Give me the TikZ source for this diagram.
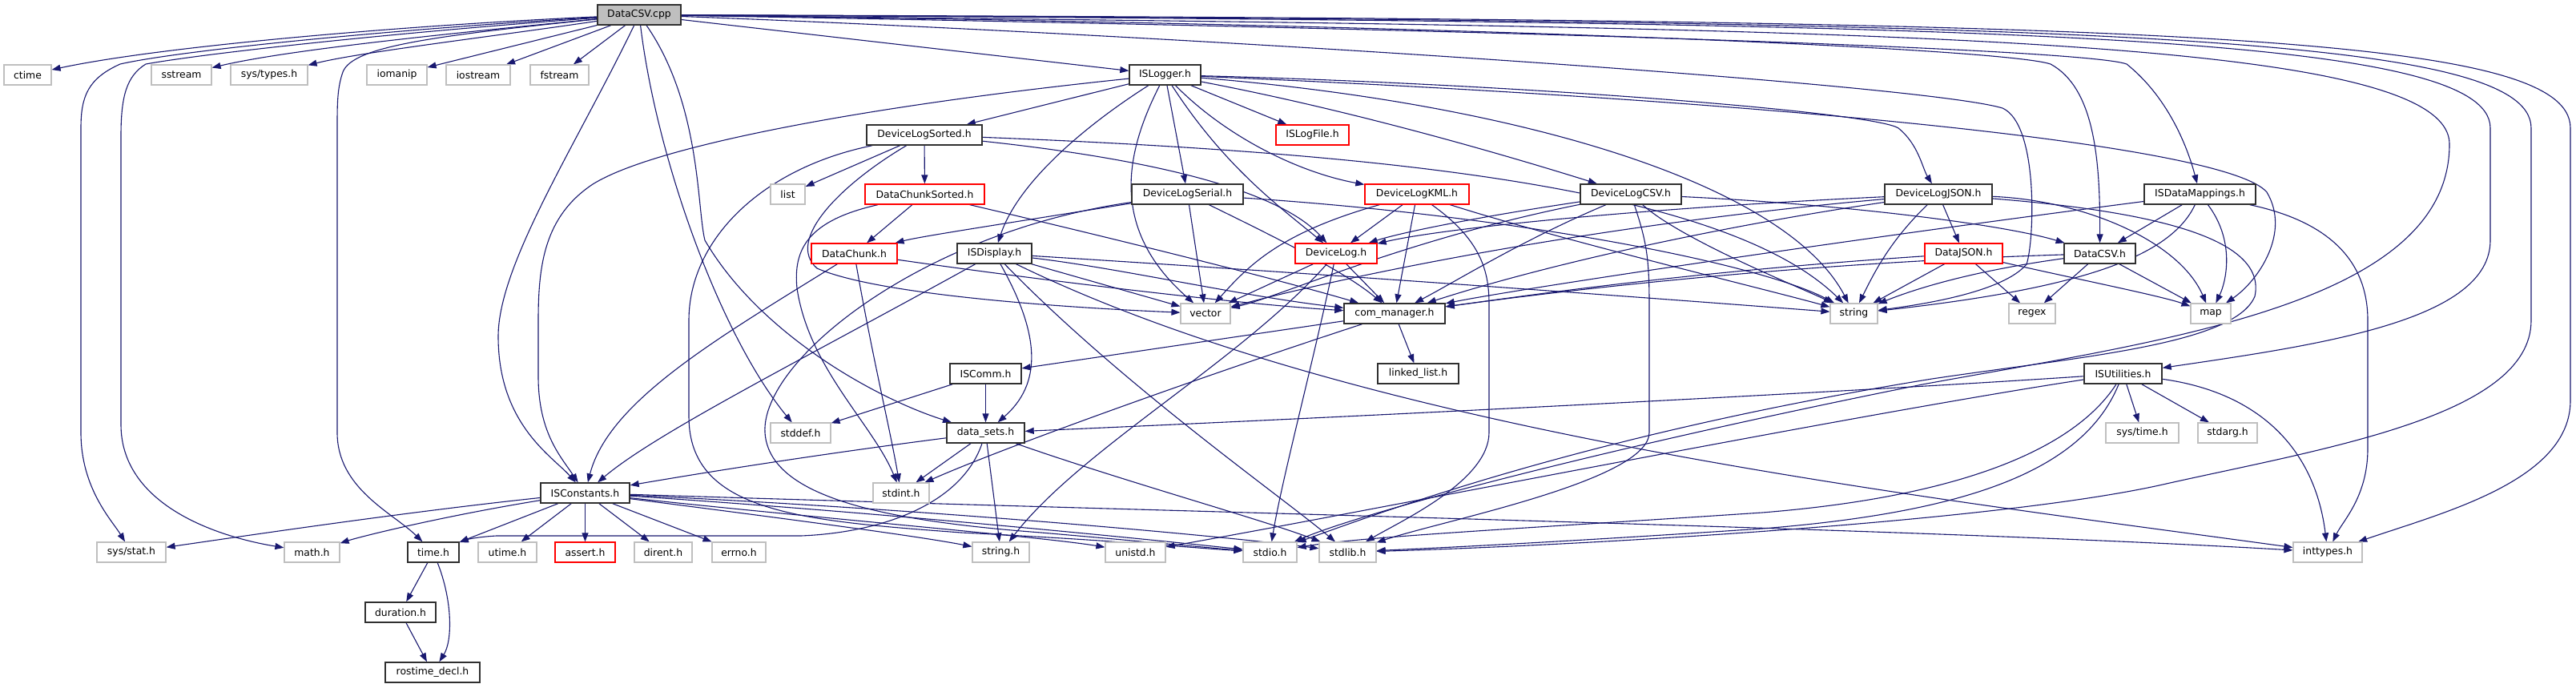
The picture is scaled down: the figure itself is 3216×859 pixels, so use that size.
\documentclass[tikz,border=0pt]{standalone}
\usepackage{fontspec}
\setmainfont{DejaVu Sans}
\usetikzlibrary{arrows.meta}
\definecolor{edgec}{HTML}{191970}
\definecolor{grayb}{HTML}{BFBFBF}
\definecolor{blackb}{HTML}{303030}
\pgfdeclarelayer{edgelayer}
\pgfsetlayers{edgelayer,main}
\newcommand{\bx}[7]{\node[#2, minimum width={#5pt-#3pt}, minimum height={#6pt-#4pt}] (#1) at ({(#3+#5)/2},{(#4+#6)/2}) {#7};}
\begin{document}
\begin{tikzpicture}[x=1pt,y=-1pt,
  base/.style={rectangle, inner sep=0pt, fill=white, font=\fontsize{12.4}{14}\selectfont},
  nb/.style={base, draw=blackb, line width=1.4pt},
  ng/.style={base, draw=grayb, line width=1.2pt},
  nr/.style={base, draw=red, line width=1.3pt},
  nroot/.style={base, draw=blackb, line width=1.4pt, fill=grayb},
  e/.style={draw=edgec, line width=1.1pt, -{Triangle[length=11pt,width=8pt]}}]
\useasboundingbox (0,0) rectangle (3216,859);
% nodes
\bx{dcpp}{nroot}{746}{6}{850}{31}{DataCSV.cpp}
\bx{ctime}{ng}{5}{81}{64}{106}{ctime}
\bx{sstream}{ng}{189}{81}{264}{106}{sstream}
\bx{systypes}{ng}{288}{81}{384}{106}{sys/types.h}
\bx{iomanip}{ng}{458}{81}{533}{106}{iomanip}
\bx{iostream}{ng}{557}{81}{637}{106}{iostream}
\bx{fstream}{ng}{662}{81}{735}{106}{fstream}
\bx{islogger}{nb}{1410}{81}{1499}{106}{ISLogger.h}
\bx{devlogsorted}{nb}{1082}{156}{1226}{181}{DeviceLogSorted.h}
\bx{islogfile}{nr}{1593}{156}{1684}{181}{ISLogFile.h}
\bx{list}{ng}{962}{230}{1005}{255}{list}
\bx{dcsorted}{nr}{1080}{230}{1229}{255}{DataChunkSorted.h}
\bx{devlogserial}{nb}{1413}{230}{1552}{255}{DeviceLogSerial.h}
\bx{devlogkml}{nr}{1704}{230}{1834}{255}{DeviceLogKML.h}
\bx{devlogcsv}{nb}{1973}{230}{2099}{255}{DeviceLogCSV.h}
\bx{devlogjson}{nb}{2353}{230}{2487}{255}{DeviceLogJSON.h}
\bx{isdatamap}{nb}{2677}{230}{2816}{255}{ISDataMappings.h}
\bx{datachunk}{nr}{1013}{304}{1120}{329}{DataChunk.h}
\bx{isdisplay}{nb}{1195}{304}{1288}{329}{ISDisplay.h}
\bx{devlog}{nr}{1617}{304}{1719}{329}{DeviceLog.h}
\bx{datajson}{nr}{2403}{304}{2500}{329}{DataJSON.h}
\bx{datacsvh}{nb}{2577}{304}{2666}{329}{DataCSV.h}
\bx{vector}{ng}{1474}{379}{1536}{404}{vector}
\bx{commgr}{nb}{1678}{379}{1804}{404}{com\_manager.h}
\bx{string}{ng}{2285}{379}{2344}{404}{string}
\bx{regex}{ng}{2508}{379}{2566}{404}{regex}
\bx{map}{ng}{2735}{379}{2785}{404}{map}
\bx{iscomm}{nb}{1186}{454}{1275}{479}{ISComm.h}
\bx{linkedlist}{nb}{1720}{454}{1821}{479}{linked\_list.h}
\bx{isutil}{nb}{2602}{454}{2699}{479}{ISUtilities.h}
\bx{stddef}{ng}{962}{528}{1037}{553}{stddef.h}
\bx{datasets}{nb}{1182}{528}{1279}{553}{data\_sets.h}
\bx{systime}{ng}{2629}{528}{2720}{553}{sys/time.h}
\bx{stdarg}{ng}{2744}{528}{2818}{553}{stdarg.h}
\bx{isconst}{nb}{675}{603}{786}{628}{ISConstants.h}
\bx{stdint}{ng}{1090}{603}{1160}{628}{stdint.h}
\bx{sysstat}{ng}{121}{677}{207}{702}{sys/stat.h}
\bx{mathh}{ng}{355}{677}{424}{702}{math.h}
\bx{timeh}{nb}{509}{677}{573}{702}{time.h}
\bx{utime}{ng}{597}{677}{670}{702}{utime.h}
\bx{assert}{nr}{693}{677}{768}{702}{assert.h}
\bx{dirent}{ng}{792}{677}{864}{702}{dirent.h}
\bx{errno}{ng}{889}{677}{956}{702}{errno.h}
\bx{stringh}{ng}{1214}{677}{1285}{702}{string.h}
\bx{unistd}{ng}{1380}{677}{1455}{702}{unistd.h}
\bx{stdio}{ng}{1552}{677}{1619}{702}{stdio.h}
\bx{stdlib}{ng}{1647}{677}{1718}{702}{stdlib.h}
\bx{inttypes}{ng}{2863}{677}{2949}{702}{inttypes.h}
\bx{duration}{nb}{456}{752}{544}{777}{duration.h}
\bx{rostime}{nb}{481}{827}{599}{852}{rostime\_decl.h}
\begin{pgfonlayer}{edgelayer}
\fill[white] (0,0) rectangle (3216,859);
% edges from DataCSV.cpp
\draw[e] (dcpp) .. controls (500,32) and (200,58) .. (ctime);
\draw[e] (dcpp) .. controls (560,42) and (360,62) .. (sstream);
\draw[e] (dcpp) .. controls (620,45) and (450,65) .. (systypes);
\draw[e] (dcpp) -- (iomanip);
\draw[e] (dcpp) -- (iostream);
\draw[e] (dcpp) -- (fstream);
\draw[e] (dcpp) -- (islogger);
\draw[e] (dcpp) .. controls (500,36) and (230,62) .. (150,80) .. controls (110,98) and (101,120) .. (101,160) -- (101,540) .. controls (101,610) and (140,650) .. (sysstat);
\draw[e] (dcpp) .. controls (500,40) and (260,66) .. (182,80) .. controls (158,95) and (151,120) .. (151,170) -- (151,530) .. controls (151,630) and (270,670) .. (mathh);
\draw[e] (dcpp) .. controls (540,45) and (440,58) .. (428,90) .. controls (421,110) and (421,130) .. (421,160) -- (421,540) .. controls (421,610) and (490,640) .. (timeh);
\draw[e] (dcpp) .. controls (720,180) and (622,330) .. (622,420) .. controls (622,530) and (690,570) .. (isconst);
\draw[e] (dcpp) .. controls (820,200) and (900,420) .. (stddef);
\draw[e] (dcpp) .. controls (875,130) and (870,260) .. (880,300) .. controls (950,420) and (1100,500) .. (datasets);
\draw[e] (dcpp) .. controls (1500,45) and (2400,105) .. (2500,135) .. controls (2545,155) and (2540,300) .. (2530,330) .. controls (2500,365) and (2400,380) .. (string);
\draw[e] (dcpp) .. controls (1800,30) and (2500,60) .. (2560,80) .. controls (2615,110) and (2622,200) .. (datacsvh);
\draw[e] (dcpp) .. controls (1800,35) and (2600,60) .. (2655,80) .. controls (2705,120) and (2730,180) .. (isdatamap);
\draw[e] (dcpp) .. controls (2300,35) and (3058,40) .. (3058,180) .. controls (3058,380) and (2700,425) .. (2400,480) .. controls (2000,560) and (1700,640) .. (stdio);
\draw[e] (dcpp) .. controls (2500,28) and (3109,40) .. (3109,160) -- (3109,300) .. controls (3109,400) and (2900,430) .. (isutil);
\draw[e] (dcpp) .. controls (2600,26) and (3160,40) .. (3160,160) -- (3160,400) .. controls (3160,520) and (2900,560) .. (2700,605) .. controls (2500,650) and (2000,680) .. (stdlib);
\draw[e] (dcpp) .. controls (2700,24) and (3209,40) .. (3209,160) -- (3209,500) .. controls (3209,600) and (3050,640) .. (inttypes);
% ISLogger.h
\draw[e] (islogger) .. controls (1100,130) and (820,180) .. (740,230) .. controls (680,270) and (672,330) .. (672,400) -- (672,470) .. controls (672,540) and (700,570) .. (isconst);
\draw[e] (islogger) -- (devlogsorted);
\draw[e] (islogger) .. controls (1350,160) and (1270,230) .. (isdisplay);
\draw[e] (islogger) .. controls (1400,200) and (1390,290) .. (vector);
\draw[e] (islogger) -- (devlogserial);
\draw[e] (islogger) .. controls (1530,210) and (1600,260) .. (devlog);
\draw[e] (islogger) .. controls (1530,170) and (1620,215) .. (devlogkml);
\draw[e] (islogger) .. controls (1700,140) and (1900,200) .. (devlogcsv);
\draw[e] (islogger) -- (islogfile);
\draw[e] (islogger) .. controls (1900,105) and (2340,140) .. (2370,160) .. controls (2395,180) and (2400,210) .. (devlogjson);
\draw[e] (islogger) .. controls (2200,125) and (2780,180) .. (2830,240) .. controls (2860,290) and (2820,350) .. (map);
\draw[e] (islogger) .. controls (1900,130) and (2230,230) .. (string);
% DeviceLogSorted.h
\draw[e] (devlogsorted) -- (list);
\draw[e] (devlogsorted) -- (dcsorted);
\draw[e] (devlogsorted) .. controls (1050,230) and (980,300) .. (1020,335) .. controls (1100,370) and (1350,385) .. (vector);
\draw[e] (devlogsorted) .. controls (950,210) and (860,300) .. (860,400) -- (860,520) .. controls (860,640) and (1000,650) .. (1200,665) .. controls (1400,675) and (1500,685) .. (stdio);
\draw[e] (devlogsorted) .. controls (1450,200) and (1600,240) .. (devlog);
\draw[e] (devlogsorted) .. controls (1700,190) and (2150,230) .. (string);
% DataChunkSorted.h
\draw[e] (dcsorted) -- (datachunk);
\draw[e] (dcsorted) .. controls (1010,275) and (990,310) .. (995,360) .. controls (1010,460) and (1090,530) .. (stdint);
\draw[e] (dcsorted) .. controls (1400,300) and (1600,350) .. (commgr);
% DataChunk.h
\draw[e] (datachunk) .. controls (900,420) and (760,500) .. (isconst);
\draw[e] (datachunk) .. controls (1090,450) and (1110,530) .. (stdint);
\draw[e] (datachunk) .. controls (1300,350) and (1550,380) .. (commgr);
% ISDisplay.h
\draw[e] (isdisplay) .. controls (1400,335) and (1550,370) .. (commgr);
\draw[e] (isdisplay) -- (vector);
\draw[e] (isdisplay) .. controls (1700,345) and (2100,375) .. (string);
\draw[e] (isdisplay) .. controls (1300,420) and (1300,480) .. (datasets);
\draw[e] (isdisplay) .. controls (1400,480) and (1600,620) .. (stdlib);
\draw[e] (isdisplay) .. controls (1000,450) and (820,540) .. (isconst);
\draw[e] (isdisplay) .. controls (1700,540) and (2400,620) .. (inttypes);
% DeviceLogSerial.h
\draw[e] (devlogserial) .. controls (1250,280) and (1150,295) .. (datachunk);
\draw[e] (devlogserial) .. controls (1150,290) and (950,450) .. (955,540) .. controls (960,620) and (1100,650) .. (1300,665) .. controls (1450,678) and (1520,685) .. (stdio);
\draw[e] (devlogserial) -- (vector);
\draw[e] (devlogserial) .. controls (1600,300) and (1680,340) .. (commgr);
\draw[e] (devlogserial) .. controls (1900,270) and (2200,330) .. (string);
% DeviceLogKML.h
\draw[e] (devlogkml) .. controls (1600,290) and (1560,330) .. (vector);
\draw[e] (devlogkml) -- (devlog);
\draw[e] (devlogkml) -- (commgr);
\draw[e] (devlogkml) .. controls (1850,300) and (1859,340) .. (1859,380) -- (1859,540) .. controls (1859,600) and (1750,650) .. (stdlib);
\draw[e] (devlogkml) .. controls (1950,300) and (2200,360) .. (string);
% DeviceLogCSV.h
\draw[e] (devlogcsv) .. controls (1850,270) and (1750,290) .. (devlog);
\draw[e] (devlogcsv) .. controls (1750,300) and (1600,370) .. (vector);
\draw[e] (devlogcsv) .. controls (1900,300) and (1820,350) .. (commgr);
\draw[e] (devlogcsv) .. controls (2100,300) and (2250,360) .. (string);
\draw[e] (devlogcsv) .. controls (2055,300) and (2059,320) .. (2059,380) -- (2059,540) .. controls (2059,600) and (1800,650) .. (stdlib);
\draw[e] (devlogcsv) .. controls (2300,255) and (2500,280) .. (datacsvh);
% DeviceLogJSON.h
\draw[e] (devlogjson) .. controls (2050,260) and (1800,285) .. (devlog);
\draw[e] (devlogjson) .. controls (2000,280) and (1700,340) .. (vector);
\draw[e] (devlogjson) .. controls (2100,290) and (1900,340) .. (commgr);
\draw[e] (devlogjson) .. controls (2360,300) and (2340,340) .. (string);
\draw[e] (devlogjson) -- (datajson);
\draw[e] (devlogjson) .. controls (2600,250) and (2720,300) .. (map);
\draw[e] (devlogjson) .. controls (2700,265) and (2830,300) .. (2815,370) .. controls (2790,430) and (2600,445) .. (2412,473) .. controls (2000,540) and (1750,630) .. (stdio);
% DataJSON.h
\draw[e] (datajson) .. controls (2100,340) and (1900,370) .. (commgr);
\draw[e] (datajson) -- (string);
\draw[e] (datajson) -- (regex);
\draw[e] (datajson) .. controls (2600,350) and (2700,370) .. (map);
% DataCSV.h
\draw[e] (datacsvh) .. controls (2200,330) and (1900,370) .. (commgr);
\draw[e] (datacsvh) .. controls (2450,340) and (2380,365) .. (string);
\draw[e] (datacsvh) -- (regex);
\draw[e] (datacsvh) -- (map);
% ISDataMappings.h
\draw[e] (isdatamap) -- (datacsvh);
\draw[e] (isdatamap) .. controls (2710,320) and (2600,360) .. (string);
\draw[e] (isdatamap) .. controls (2790,300) and (2780,350) .. (map);
\draw[e] (isdatamap) .. controls (2300,300) and (1900,360) .. (commgr);
\draw[e] (isdatamap) .. controls (2900,275) and (2956,320) .. (2956,400) -- (2956,560) .. controls (2956,620) and (2925,650) .. (inttypes);
% com_manager.h
\draw[e] (commgr) -- (linkedlist);
\draw[e] (commgr) -- (iscomm);
\draw[e] (commgr) .. controls (1500,470) and (1250,560) .. (stdint);
% ISComm.h
\draw[e] (iscomm) -- (stddef);
\draw[e] (iscomm) -- (datasets);
% ISUtilities.h
\draw[e] (isutil) .. controls (2300,490) and (1700,520) .. (datasets);
\draw[e] (isutil) .. controls (2300,520) and (1700,640) .. (unistd);
\draw[e] (isutil) .. controls (2590,560) and (2450,620) .. (2200,640) .. controls (1900,660) and (1700,670) .. (stdio);
\draw[e] (isutil) .. controls (2600,590) and (2450,640) .. (2200,660) .. controls (1900,680) and (1750,686) .. (stdlib);
\draw[e] (isutil) -- (systime);
\draw[e] (isutil) -- (stdarg);
\draw[e] (isutil) .. controls (2820,490) and (2890,560) .. (inttypes);
% data_sets.h
\draw[e] (datasets) .. controls (1000,570) and (850,595) .. (isconst);
\draw[e] (datasets) -- (stdint);
\draw[e] (datasets) -- (stringh);
\draw[e] (datasets) .. controls (1200,630) and (1100,665) .. (1000,669) -- (620,669) .. controls (600,670) and (585,673) .. (timeh);
\draw[e] (datasets) .. controls (1400,600) and (1580,650) .. (stdlib);
% DeviceLog.h
\draw[e] (devlog) -- (vector);
\draw[e] (devlog) -- (commgr);
\draw[e] (devlog) .. controls (1640,450) and (1600,600) .. (stdio);
\draw[e] (devlog) .. controls (1550,450) and (1350,560) .. (stringh);
% ISConstants.h
\draw[e] (isconst) .. controls (500,640) and (300,670) .. (sysstat);
\draw[e] (isconst) .. controls (550,645) and (450,670) .. (mathh);
\draw[e] (isconst) -- (timeh);
\draw[e] (isconst) -- (utime);
\draw[e] (isconst) -- (assert);
\draw[e] (isconst) -- (dirent);
\draw[e] (isconst) -- (errno);
\draw[e] (isconst) .. controls (1000,650) and (1150,670) .. (stringh);
\draw[e] (isconst) .. controls (1000,645) and (1300,670) .. (unistd);
\draw[e] (isconst) .. controls (1100,640) and (1400,670) .. (stdio);
\draw[e] (isconst) .. controls (1200,638) and (1550,672) .. (stdlib);
\draw[e] (isconst) .. controls (1500,640) and (2400,660) .. (inttypes);
% time.h
\draw[e] (timeh) -- (duration);
\draw[e] (timeh) .. controls (565,750) and (565,800) .. (rostime);
\draw[e] (duration) -- (rostime);
\end{pgfonlayer}
\end{tikzpicture}
\end{document}
